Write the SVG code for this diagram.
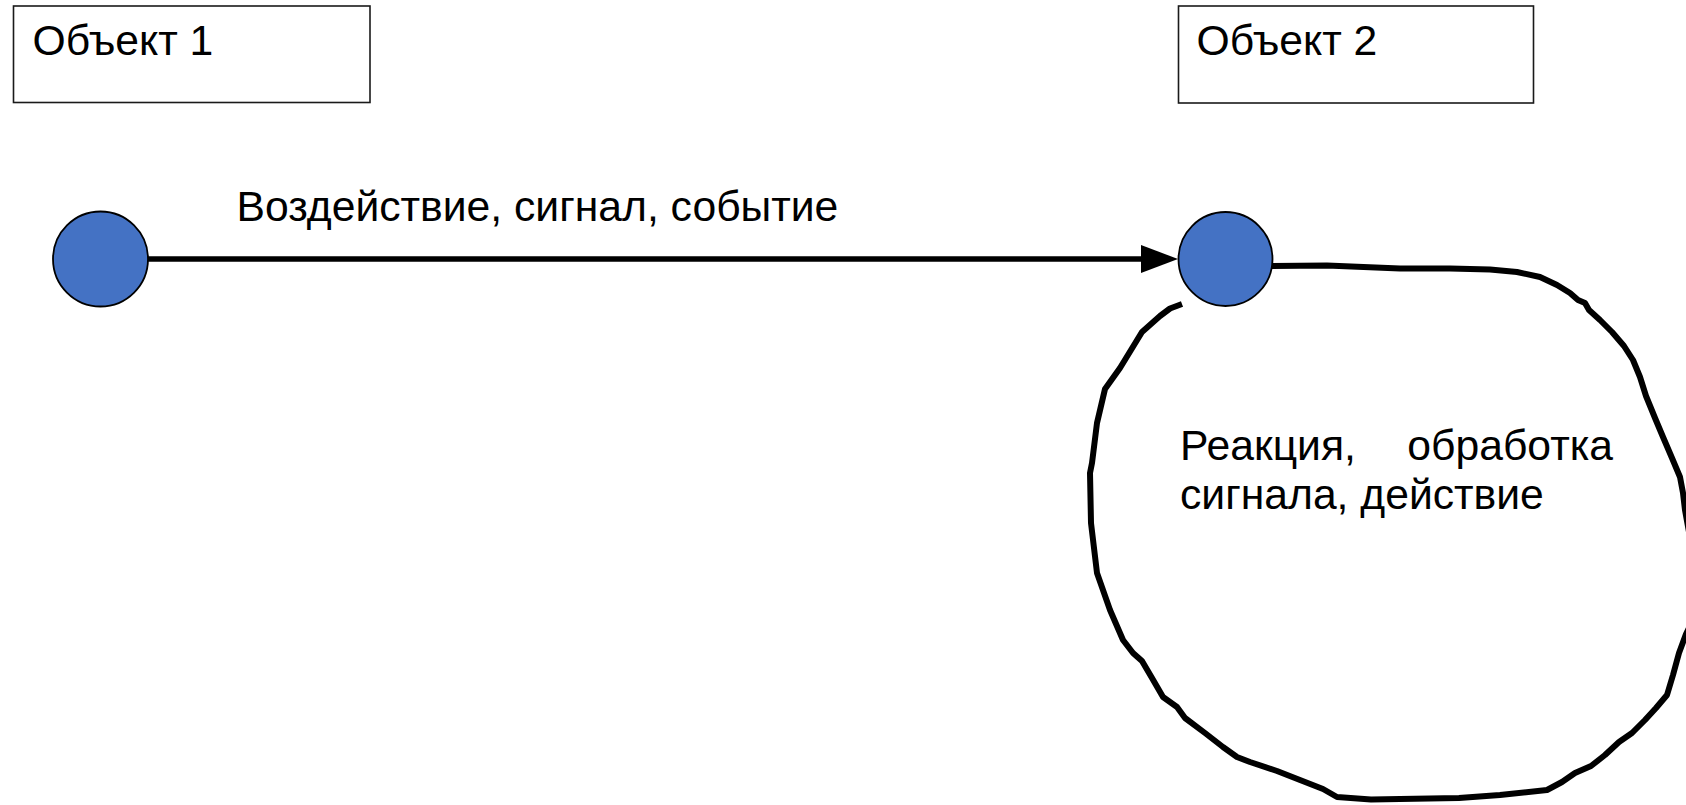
<svg xmlns="http://www.w3.org/2000/svg" width="1686" height="805" viewBox="0 0 1686 805">
<style>
.box{fill:#fff;stroke:#1a1a1a;stroke-width:1.6}
.t{font-family:"Liberation Sans",Arial,sans-serif;font-size:42.67px;fill:#000}
.dot{fill:#4472C4;stroke:#000;stroke-width:1.8}
.conn{stroke:#000;stroke-width:5.5;fill:none}
.loop{stroke:#000;stroke-width:6;fill:none;stroke-linejoin:round;stroke-linecap:butt}
</style>
<defs>
<marker id="ah" markerUnits="userSpaceOnUse" markerWidth="38" markerHeight="28" refX="9" refY="14" orient="auto" viewBox="0 0 38 28">
<path d="M0,0 L37,14 L0,28 z" fill="#000"/>
</marker>
</defs>
<rect width="1686" height="805" fill="#fff"/>
<g id="object1">
<rect class="box" x="13.5" y="6" width="356.5" height="96.5"/>
<text class="t" x="32.5" y="55">Объект 1</text>
</g>
<g id="object2">
<rect class="box" x="1178.5" y="6" width="355" height="97"/>
<text class="t" x="1196.5" y="55">Объект 2</text>
</g>
<g id="connectors">
<line class="conn" x1="147" y1="259" x2="1150" y2="259" marker-end="url(#ah)"/>
<text class="t" x="236.5" y="221">Воздействие, сигнал, событие</text>
<polyline class="loop" points="1272,266 1327,265.5 1400,268.5 1450,268.5 1490,269.5 1517,272 1540,277 1557,285 1570,293 1578,300 1585,303 1589,310 1600,320 1612,332 1624,346 1633,360 1640,377 1646,396 1655,418 1663,437 1672,458 1680,477 1683,493 1685,510 1689,532 1700,580 1689,628 1686,634 1679,653 1673,675 1667,695 1656,708 1645,720 1632,733 1619,742 1605,755 1591,766 1575,773 1562,782 1547,790 1500,795 1459,798 1400,799 1371,799.5 1337,797 1323,789 1300,780 1277,771 1250,762 1237,757 1223,747 1205,733 1185,718 1177,707 1163,697 1152,678 1142,661 1133,653 1123,640 1110,610 1097,573 1091,523 1090,473 1092,463 1097,423 1105,389 1120,368 1142,332 1160,316 1170,308.5 1182,304"/>
</g>
<g id="node1">
<circle class="dot" cx="100.5" cy="259" r="47.5"/>
</g>
<g id="node2">
<circle class="dot" cx="1225.5" cy="259" r="47"/>
</g>
<g id="reaction">
<text class="t"><tspan x="1180" y="460">Реакция,</tspan><tspan x="1613" y="460" text-anchor="end">обработка</tspan><tspan x="1180" y="509">сигнала, действие</tspan></text>
</g>
</svg>
